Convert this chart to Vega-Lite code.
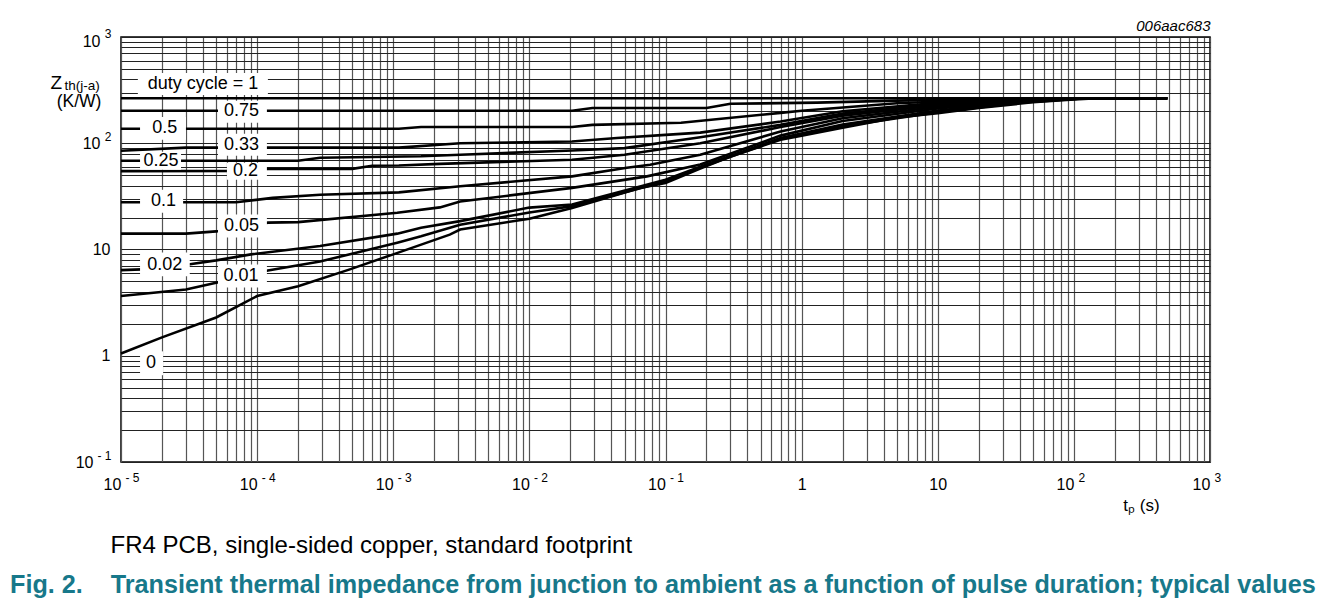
{
  "$schema": "https://vega.github.io/schema/vega-lite/v6.json",
  "width": 1089,
  "height": 425,
  "autosize": {"type": "none"},
  "padding": {"left": 121, "top": 37, "right": 118, "bottom": 140},
  "background": "white",
  "title": {
    "text": "Fig. 2.\u00a0\u00a0\u00a0\u00a0Transient thermal impedance from junction to ambient as a function of pulse duration; typical values",
    "orient": "bottom",
    "anchor": "start",
    "frame": "group",
    "dx": -111,
    "offset": 16,
    "fontSize": 25.2,
    "fontWeight": "bold",
    "color": "#17788a",
    "font": "Liberation Sans"
  },
  "config": {
    "font": "Liberation Sans",
    "view": {"stroke": "black", "strokeWidth": 1.5}
  },
  "datasets": {
    "curves": [
      {"duty": "1", "t": 1e-5, "z": 265}, {"duty": "1", "t": 0.001, "z": 265}, {"duty": "1", "t": 1, "z": 265}, {"duty": "1", "t": 485, "z": 265},

      {"duty": "0.75", "t": 1e-5, "z": 202}, {"duty": "0.75", "t": 0.0206, "z": 202}, {"duty": "0.75", "t": 0.029, "z": 215}, {"duty": "0.75", "t": 0.2, "z": 215}, {"duty": "0.75", "t": 0.3, "z": 235}, {"duty": "0.75", "t": 1.3, "z": 241}, {"duty": "0.75", "t": 5, "z": 252}, {"duty": "0.75", "t": 20, "z": 260}, {"duty": "0.75", "t": 123, "z": 265}, {"duty": "0.75", "t": 485, "z": 265},

      {"duty": "0.5", "t": 1e-5, "z": 137}, {"duty": "0.5", "t": 0.0011, "z": 137}, {"duty": "0.5", "t": 0.0016, "z": 142}, {"duty": "0.5", "t": 0.0206, "z": 142}, {"duty": "0.5", "t": 0.029, "z": 149}, {"duty": "0.5", "t": 0.13, "z": 156}, {"duty": "0.5", "t": 0.7, "z": 193}, {"duty": "0.5", "t": 1, "z": 202}, {"duty": "0.5", "t": 5, "z": 238}, {"duty": "0.5", "t": 20, "z": 255}, {"duty": "0.5", "t": 123, "z": 265}, {"duty": "0.5", "t": 485, "z": 265},

      {"duty": "0.33", "t": 1e-5, "z": 85}, {"duty": "0.33", "t": 3e-5, "z": 91}, {"duty": "0.33", "t": 0.0011, "z": 91}, {"duty": "0.33", "t": 0.0031, "z": 100}, {"duty": "0.33", "t": 0.0206, "z": 104}, {"duty": "0.33", "t": 0.044, "z": 112}, {"duty": "0.33", "t": 0.1, "z": 120}, {"duty": "0.33", "t": 0.18, "z": 126}, {"duty": "0.33", "t": 0.7, "z": 160}, {"duty": "0.33", "t": 2, "z": 200}, {"duty": "0.33", "t": 10, "z": 240}, {"duty": "0.33", "t": 40, "z": 258}, {"duty": "0.33", "t": 123, "z": 265}, {"duty": "0.33", "t": 485, "z": 265},

      {"duty": "0.25", "t": 1e-5, "z": 68.5}, {"duty": "0.25", "t": 0.0002, "z": 68.5}, {"duty": "0.25", "t": 0.00029, "z": 73}, {"duty": "0.25", "t": 0.0016, "z": 75.5}, {"duty": "0.25", "t": 0.0031, "z": 78}, {"duty": "0.25", "t": 0.0206, "z": 85.5}, {"duty": "0.25", "t": 0.05, "z": 90}, {"duty": "0.25", "t": 0.18, "z": 114}, {"duty": "0.25", "t": 0.7, "z": 149}, {"duty": "0.25", "t": 2, "z": 190}, {"duty": "0.25", "t": 10, "z": 233}, {"duty": "0.25", "t": 40, "z": 255}, {"duty": "0.25", "t": 123, "z": 265}, {"duty": "0.25", "t": 485, "z": 265},

      {"duty": "0.2", "t": 1e-5, "z": 54.6}, {"duty": "0.2", "t": 7e-5, "z": 55}, {"duty": "0.2", "t": 0.00012, "z": 57.4}, {"duty": "0.2", "t": 0.0005, "z": 57.4}, {"duty": "0.2", "t": 0.0007, "z": 61.5}, {"duty": "0.2", "t": 0.0011, "z": 61.8}, {"duty": "0.2", "t": 0.0022, "z": 64}, {"duty": "0.2", "t": 0.0206, "z": 70}, {"duty": "0.2", "t": 0.05, "z": 78}, {"duty": "0.2", "t": 0.18, "z": 100}, {"duty": "0.2", "t": 0.7, "z": 142}, {"duty": "0.2", "t": 2, "z": 182}, {"duty": "0.2", "t": 10, "z": 228}, {"duty": "0.2", "t": 40, "z": 253}, {"duty": "0.2", "t": 123, "z": 265}, {"duty": "0.2", "t": 485, "z": 265},

      {"duty": "0.1", "t": 1e-5, "z": 27.8}, {"duty": "0.1", "t": 7e-5, "z": 27.8}, {"duty": "0.1", "t": 0.00013, "z": 30.6}, {"duty": "0.1", "t": 0.00029, "z": 32.8}, {"duty": "0.1", "t": 0.0011, "z": 34.5}, {"duty": "0.1", "t": 0.0031, "z": 39.4}, {"duty": "0.1", "t": 0.0206, "z": 48.8}, {"duty": "0.1", "t": 0.052, "z": 58.7}, {"duty": "0.1", "t": 0.077, "z": 62.8}, {"duty": "0.1", "t": 0.18, "z": 78}, {"duty": "0.1", "t": 0.7, "z": 129}, {"duty": "0.1", "t": 2, "z": 172}, {"duty": "0.1", "t": 10, "z": 220}, {"duty": "0.1", "t": 40, "z": 250}, {"duty": "0.1", "t": 123, "z": 265}, {"duty": "0.1", "t": 485, "z": 265},

      {"duty": "0.05", "t": 1e-5, "z": 14.1}, {"duty": "0.05", "t": 3e-5, "z": 14.1}, {"duty": "0.05", "t": 5e-5, "z": 14.8}, {"duty": "0.05", "t": 0.00012, "z": 17.9}, {"duty": "0.05", "t": 0.0002, "z": 18.1}, {"duty": "0.05", "t": 0.00107, "z": 22.2}, {"duty": "0.05", "t": 0.0022, "z": 24.9}, {"duty": "0.05", "t": 0.0031, "z": 28.3}, {"duty": "0.05", "t": 0.0206, "z": 38}, {"duty": "0.05", "t": 0.073, "z": 48.8}, {"duty": "0.05", "t": 0.18, "z": 63}, {"duty": "0.05", "t": 0.7, "z": 118}, {"duty": "0.05", "t": 2, "z": 162}, {"duty": "0.05", "t": 10, "z": 212}, {"duty": "0.05", "t": 40, "z": 247}, {"duty": "0.05", "t": 123, "z": 265}, {"duty": "0.05", "t": 485, "z": 265},

      {"duty": "0.02", "t": 1e-5, "z": 6.4}, {"duty": "0.02", "t": 2e-5, "z": 6.6}, {"duty": "0.02", "t": 3.3e-5, "z": 7.3}, {"duty": "0.02", "t": 5e-5, "z": 7.9}, {"duty": "0.02", "t": 9e-5, "z": 9.0}, {"duty": "0.02", "t": 0.00029, "z": 10.8}, {"duty": "0.02", "t": 0.00107, "z": 14.1}, {"duty": "0.02", "t": 0.0016, "z": 16}, {"duty": "0.02", "t": 0.0031, "z": 18.5}, {"duty": "0.02", "t": 0.01, "z": 24.8}, {"duty": "0.02", "t": 0.0206, "z": 26.5}, {"duty": "0.02", "t": 0.1, "z": 45.4}, {"duty": "0.02", "t": 0.18, "z": 60}, {"duty": "0.02", "t": 0.7, "z": 112}, {"duty": "0.02", "t": 2, "z": 150}, {"duty": "0.02", "t": 10, "z": 203}, {"duty": "0.02", "t": 40, "z": 244}, {"duty": "0.02", "t": 123, "z": 265}, {"duty": "0.02", "t": 485, "z": 265},

      {"duty": "0.01", "t": 1e-5, "z": 3.65}, {"duty": "0.01", "t": 3e-5, "z": 4.2}, {"duty": "0.01", "t": 5e-5, "z": 4.86}, {"duty": "0.01", "t": 0.00012, "z": 6.35}, {"duty": "0.01", "t": 0.00029, "z": 7.7}, {"duty": "0.01", "t": 0.00107, "z": 11.6}, {"duty": "0.01", "t": 0.0016, "z": 13.3}, {"duty": "0.01", "t": 0.0031, "z": 17.1}, {"duty": "0.01", "t": 0.01, "z": 22.3}, {"duty": "0.01", "t": 0.0206, "z": 25.6}, {"duty": "0.01", "t": 0.1, "z": 43.7}, {"duty": "0.01", "t": 0.18, "z": 59}, {"duty": "0.01", "t": 0.7, "z": 110}, {"duty": "0.01", "t": 2, "z": 145}, {"duty": "0.01", "t": 10, "z": 196}, {"duty": "0.01", "t": 40, "z": 241}, {"duty": "0.01", "t": 123, "z": 265}, {"duty": "0.01", "t": 485, "z": 265},

      {"duty": "0", "t": 1e-5, "z": 1.05}, {"duty": "0", "t": 2e-5, "z": 1.49}, {"duty": "0", "t": 5e-5, "z": 2.29}, {"duty": "0", "t": 0.0001, "z": 3.65}, {"duty": "0", "t": 0.0002, "z": 4.52}, {"duty": "0", "t": 0.00048, "z": 6.5}, {"duty": "0", "t": 0.001, "z": 9.0}, {"duty": "0", "t": 0.0026, "z": 13.8}, {"duty": "0", "t": 0.0031, "z": 15.4}, {"duty": "0", "t": 0.01, "z": 19.5}, {"duty": "0", "t": 0.0206, "z": 24.6}, {"duty": "0", "t": 0.065, "z": 37.9}, {"duty": "0", "t": 0.1, "z": 42.3}, {"duty": "0", "t": 0.18, "z": 57.7}, {"duty": "0", "t": 0.3, "z": 75}, {"duty": "0", "t": 0.7, "z": 108}, {"duty": "0", "t": 1, "z": 118}, {"duty": "0", "t": 2, "z": 140}, {"duty": "0", "t": 5, "z": 175}, {"duty": "0", "t": 10, "z": 192}, {"duty": "0", "t": 20, "z": 215}, {"duty": "0", "t": 50, "z": 243}, {"duty": "0", "t": 100, "z": 258}, {"duty": "0", "t": 150, "z": 265}, {"duty": "0", "t": 485, "z": 265}
    ],
    "labels": [
      {"label": "duty cycle = 1", "tx": 4.0e-5, "zy": 362, "t0": 1.33e-5, "t1": 1.2e-4, "z0": 285, "z1": 459},
      {"label": "0.75", "tx": 7.67e-5, "zy": 199, "t0": 5.16e-5, "t1": 1.18e-4, "z0": 156, "z1": 251},
      {"label": "0.5", "tx": 2.1e-5, "zy": 139, "t0": 1.38e-5, "t1": 3.0e-5, "z0": 108, "z1": 177},
      {"label": "0.33", "tx": 7.67e-5, "zy": 96.8, "t0": 5.16e-5, "t1": 1.18e-4, "z0": 76.4, "z1": 123},
      {"label": "0.25", "tx": 1.97e-5, "zy": 68.5, "t0": 1.38e-5, "t1": 2.76e-5, "z0": 56.4, "z1": 83.2},
      {"label": "0.2", "tx": 8.2e-5, "zy": 54.3, "t0": 6.0e-5, "t1": 1.18e-4, "z0": 45.4, "z1": 65.5},
      {"label": "0.1", "tx": 2.05e-5, "zy": 28.4, "t0": 1.38e-5, "t1": 2.86e-5, "z0": 22.2, "z1": 36.5},
      {"label": "0.05", "tx": 7.67e-5, "zy": 16.6, "t0": 5.16e-5, "t1": 1.18e-4, "z0": 13.0, "z1": 21.3},
      {"label": "0.02", "tx": 2.1e-5, "zy": 7.22, "t0": 1.38e-5, "t1": 3.2e-5, "z0": 5.6, "z1": 9.36},
      {"label": "0.01", "tx": 7.6e-5, "zy": 5.61, "t0": 5.16e-5, "t1": 1.18e-4, "z0": 4.39, "z1": 7.22},
      {"label": "0", "tx": 1.66e-5, "zy": 0.851, "t0": 1.38e-5, "t1": 2.04e-5, "z0": 0.656, "z1": 1.10}
    ]
  },
  "layer": [
    {
      "data": {"name": "curves"},
      "mark": {"type": "line", "color": "black", "strokeWidth": 2.6},
      "encoding": {
        "x": {
          "field": "t", "type": "quantitative",
          "scale": {"type": "log", "domain": [1e-5, 1000], "nice": false},
          "axis": {
            "orient": "bottom",
            "values": [1e-5,2e-5,3e-5,4e-5,5e-5,6e-5,7e-5,8e-5,9e-5,1e-4,2e-4,3e-4,4e-4,5e-4,6e-4,7e-4,8e-4,9e-4,0.001,0.002,0.003,0.004,0.005,0.006,0.007,0.008,0.009,0.01,0.02,0.03,0.04,0.05,0.06,0.07,0.08,0.09,0.1,0.2,0.3,0.4,0.5,0.6,0.7,0.8,0.9,1,2,3,4,5,6,7,8,9,10,20,30,40,50,60,70,80,90,100,200,300,400,500,600,700,800,900,1000],
            "labelExpr": "abs(log(datum.value)/LN10 - round(log(datum.value)/LN10)) < 0.001 ? (datum.value == 1 ? '1' : '10') : ''",
            "labelOffset": {"condition": {"test": "datum.value == 1 || datum.value == 10", "value": 0}, "value": -9},
            "grid": true, "gridColor": "#555555", "gridWidth": 1.2,
            "ticks": false, "domain": false,
            "labelFontSize": 16, "labelPadding": 14, "labelOverlap": false, "labelFlush": false, "labelColor": "black",
            "title": "tₚ (s)", "titleFontSize": 17, "titleFontWeight": "normal", "titleColor": "black",
            "titleX": 1020, "titleY": 48, "titleAlign": "center", "titleBaseline": "alphabetic"
          }
        },
        "y": {
          "field": "z", "type": "quantitative",
          "scale": {"type": "log", "domain": [0.1, 1000], "nice": false},
          "axis": {
            "orient": "left",
            "values": [0.1,0.2,0.3,0.4,0.5,0.6,0.7,0.8,0.9,1,2,3,4,5,6,7,8,9,10,20,30,40,50,60,70,80,90,100,200,300,400,500,600,700,800,900,1000],
            "labelExpr": "abs(log(datum.value)/LN10 - round(log(datum.value)/LN10)) < 0.001 ? (datum.value == 1 ? '1' : '10') : ''",
            "labelPadding": {"condition": [{"test": "datum.value == 1 || datum.value == 10", "value": 11}, {"test": "datum.value < 0.5", "value": 28}], "value": 21},
            "labelOffset": {"condition": {"test": "datum.value == 1000", "value": 4}, "value": 0},
            "grid": true, "gridColor": "#222222", "gridWidth": 1,
            "ticks": false, "domain": false,
            "labelFontSize": 16, "labelOverlap": false, "labelFlush": false, "labelColor": "black",
            "title": "Z", "titleAngle": 0, "titleFontSize": 19, "titleFontWeight": "normal", "titleColor": "black",
            "titleX": -71, "titleY": 51, "titleAlign": "left", "titleBaseline": "alphabetic"
          }
        },
        "detail": {"field": "duty", "type": "nominal"}
      }
    },
    {
      "data": {"name": "labels"},
      "mark": {"type": "rect", "fill": "white", "stroke": null},
      "encoding": {
        "x": {
          "field": "t0", "type": "quantitative",
          "scale": {"type": "log", "domain": [1e-5, 1000], "nice": false},
          "axis": {
            "orient": "bottom",
            "values": [1e-5, 1e-4, 0.001, 0.01, 0.1, 100, 1000],
            "labelExpr": "['- 5','- 4','- 3','- 2','- 1','','','2','3'][round(log(datum.value)/LN10) + 5]",
            "labelFontSize": 12, "labelAlign": "left", "labelOffset": 4, "labelPadding": 10,
            "labelOverlap": false, "labelFlush": false, "labelColor": "black",
            "ticks": false, "domain": false, "grid": false,
            "title": "(K/W)", "titleFontSize": 17.5, "titleFontWeight": "normal", "titleColor": "black",
            "titleX": -42.5, "titleY": -356, "titleAlign": "center", "titleBaseline": "alphabetic"
          }
        },
        "x2": {"field": "t1"},
        "y": {
          "field": "z0", "type": "quantitative",
          "scale": {"type": "log", "domain": [0.1, 1000], "nice": false},
          "axis": {
            "orient": "left",
            "values": [0.1, 100, 1000],
            "labelExpr": "['- 1','','','2','3'][round(log(datum.value)/LN10) + 1]",
            "labelOffset": {"condition": {"test": "datum.value == 1000", "value": -3.5}, "value": -7},
            "labelFontSize": 12, "labelAlign": "right", "labelPadding": 10,
            "labelOverlap": false, "labelFlush": false, "labelColor": "black",
            "ticks": false, "domain": false, "grid": false,
            "title": "th(j-a)", "titleAngle": 0, "titleFontSize": 13.5, "titleFontWeight": "normal", "titleColor": "black",
            "titleX": -57, "titleY": 52, "titleAlign": "left", "titleBaseline": "alphabetic"
          }
        },
        "y2": {"field": "z1"}
      }
    },
    {
      "data": {"name": "labels"},
      "mark": {"type": "text", "fontSize": 18, "align": "center", "baseline": "middle", "color": "black"},
      "encoding": {
        "x": {
          "field": "tx", "type": "quantitative",
          "scale": {"type": "log", "domain": [1e-5, 1000], "nice": false},
          "axis": {
            "orient": "top", "title": "006aac683", "labels": false, "ticks": false, "domain": false, "grid": false,
            "titleFontStyle": "italic", "titleFontWeight": "normal", "titleFontSize": 15, "titleColor": "black",
            "titleX": 1089, "titleY": -7, "titleAlign": "right", "titleBaseline": "alphabetic"
          }
        },
        "y": {
          "field": "zy", "type": "quantitative",
          "scale": {"type": "log", "domain": [0.1, 1000], "nice": false},
          "axis": {
            "orient": "left", "title": "FR4 PCB, single-sided copper, standard footprint", "labels": false, "ticks": false, "domain": false, "grid": false,
            "titleAngle": 0, "titleFontWeight": "normal", "titleFontSize": 24, "titleColor": "black",
            "titleX": -11, "titleY": 515, "titleAlign": "left", "titleBaseline": "alphabetic"
          }
        },
        "text": {"field": "label"}
      }
    }
  ],
  "resolve": {"axis": {"x": "independent", "y": "independent"}}
}
